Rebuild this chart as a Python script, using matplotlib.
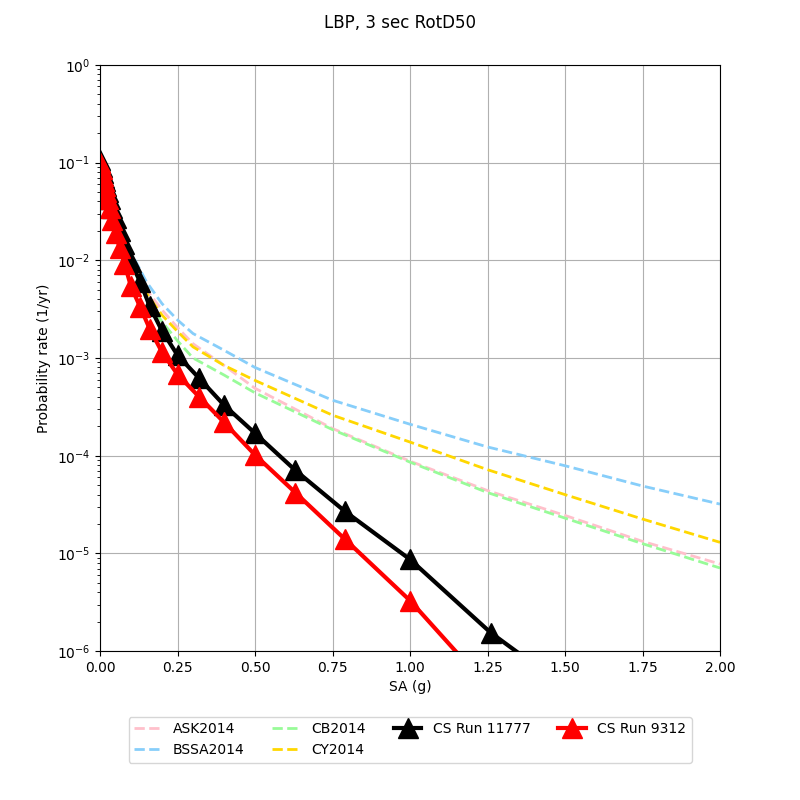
import numpy as np
import matplotlib
matplotlib.use("Agg")
import matplotlib.pyplot as plt

# GMPE hazard curves (SA in g, annual rate)
gmpe_x = [0.0001, 0.01, 0.05, 0.1, 0.15, 0.2, 0.25, 0.3, 0.4, 0.5, 0.75, 1.0, 1.25, 1.5, 1.75, 2.0]
ask2014 = [0.1, 0.075, 0.028, 0.011, 5.0e-3, 3.1e-3, 2.05e-3, 1.4e-3, 8.4e-4, 4.9e-4, 1.9e-4, 8.8e-5, 4.4e-5, 2.45e-5, 1.33e-5, 7.8e-6]
bssa2014 = [0.1, 0.08, 0.03, 0.012, 6.0e-3, 3.6e-3, 2.45e-3, 1.78e-3, 1.2e-3, 8.0e-4, 3.7e-4, 2.1e-4, 1.23e-4, 7.9e-5, 4.9e-5, 3.2e-5]
cb2014 = [0.1, 0.072, 0.026, 0.0095, 4.0e-3, 2.35e-3, 1.5e-3, 1.0e-3, 6.7e-4, 4.4e-4, 1.85e-4, 8.6e-5, 4.2e-5, 2.3e-5, 1.26e-5, 7.1e-6]
cy2014 = [0.1, 0.074, 0.027, 0.0105, 4.6e-3, 2.75e-3, 1.87e-3, 1.3e-3, 8.4e-4, 5.9e-4, 2.6e-4, 1.38e-4, 7.2e-5, 4.0e-5, 2.25e-5, 1.3e-5]

# CyberShake curves
cs_x = [0.0001, 0.001, 0.005, 0.01, 0.013, 0.016, 0.02, 0.025, 0.032, 0.04, 0.05, 0.063, 0.079,
        0.1, 0.13, 0.16, 0.2, 0.25, 0.32, 0.4, 0.5, 0.63, 0.79, 1.0, 1.26, 1.58, 2.0]
cs_11777 = [0.105, 0.1, 0.09, 0.078, 0.07, 0.064, 0.057, 0.05, 0.042, 0.034, 0.027, 0.02, 0.0145,
            0.0095, 0.006, 3.4e-3, 1.9e-3, 1.07e-3, 6.2e-4, 3.3e-4, 1.7e-4, 7.1e-5, 2.7e-5, 8.7e-6, 1.55e-6, 2.8e-7, 2e-8]
cs_9312 = [0.1, 0.098, 0.085, 0.072, 0.065, 0.058, 0.05, 0.042, 0.034, 0.026, 0.019, 0.0135, 0.0092,
           0.0054, 0.0033, 0.002, 1.15e-3, 6.8e-4, 4.0e-4, 2.2e-4, 1.02e-4, 4.2e-5, 1.4e-5, 3.3e-6, 4e-7, 3e-8, 1e-9]

fig = plt.figure(figsize=(8, 8), dpi=100)
ax = fig.add_axes([0.125, 0.186, 0.775, 0.733])

ax.plot(gmpe_x, ask2014, color="pink", ls="--", lw=2, label="ASK2014")
ax.plot(gmpe_x, bssa2014, color="lightskyblue", ls="--", lw=2, label="BSSA2014")
ax.plot(gmpe_x, cb2014, color="palegreen", ls="--", lw=2, label="CB2014")
ax.plot(gmpe_x, cy2014, color="gold", ls="--", lw=2, label="CY2014")
ax.plot(cs_x, cs_11777, color="black", lw=3, marker="^", markersize=15, label="CS Run 11777")
ax.plot(cs_x, cs_9312, color="red", lw=3, marker="^", markersize=15, label="CS Run 9312")

ax.set_yscale("log")
ax.set_xlim(0, 2.0)
ax.set_ylim(1e-6, 1)
ax.grid(True)
ax.set_xlabel("SA (g)")
ax.set_ylabel("Probability rate (1/yr)")
fig.suptitle("LBP, 3 sec RotD50", y=0.982)
ax.legend(loc="upper center", bbox_to_anchor=(0.5, -0.1), ncol=4)

fig.savefig("out.png", dpi=100)
